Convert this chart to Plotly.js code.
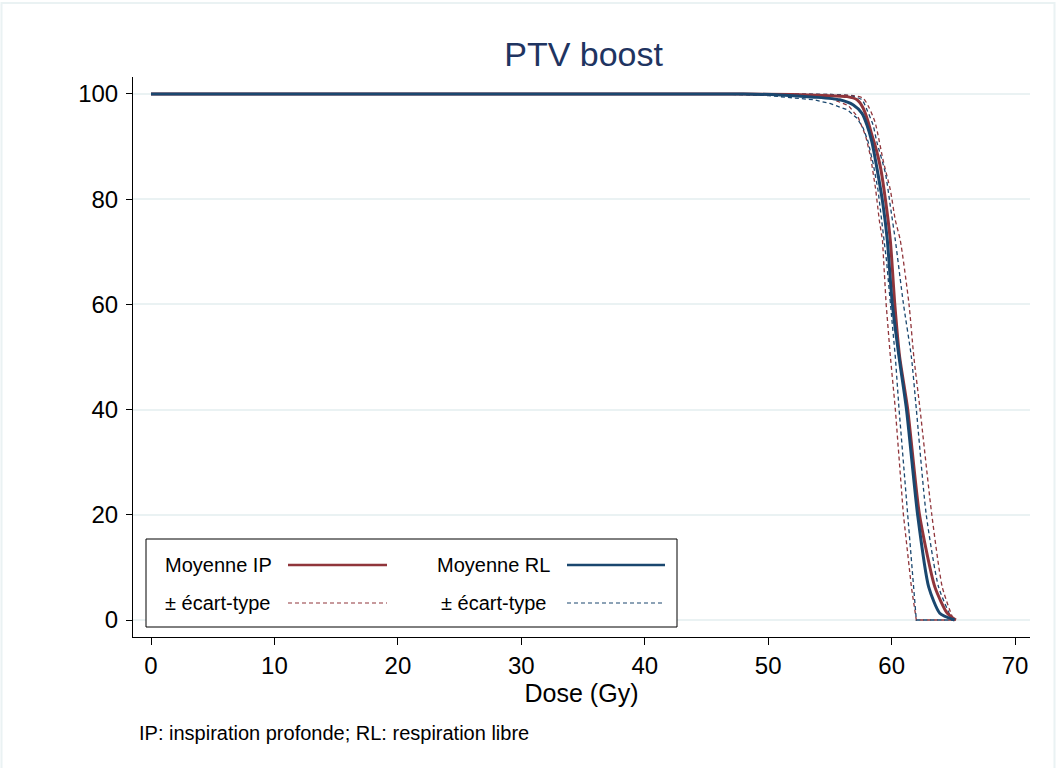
<!DOCTYPE html>
<html>
<head>
<meta charset="utf-8">
<script src="https://cdn.plot.ly/plotly-3.0.1.min.js"></script>
<style>html,body{margin:0;padding:0;background:#fff;}#chart{width:1056px;height:768px;}</style>
</head>
<body>
<div id="chart"></div>
<script>
// ---- Data (dose in Gy, volume in %) ----
const doseIP = [0, 48, 52, 54.5, 56.4, 57.2, 57.7, 58.1, 58.4, 58.65, 59.1, 59.55, 59.9, 60.25, 60.65, 61.3, 62.25, 63.5, 64.5, 65.2];
const volIP  = [100, 100, 99.9, 99.7, 99.5, 98.9, 97.3, 94.7, 92.2, 90.3, 86, 79, 72, 60.2, 50, 40.1, 20.1, 6.3, 1.3, 0];

const doseIPlow = [0, 48, 52, 55, 56.5, 57.3, 57.9, 58.3, 58.7, 59.0, 59.26, 59.42, 59.55, 59.9, 60.3, 60.95, 61.6, 62.0, 65.2];
const volIPlow  = [100, 100, 99.8, 99.2, 97.8, 95.5, 92, 88, 82, 76, 72.2, 66.5, 60.2, 50, 40.1, 20.1, 6.3, 0, 0];

const doseIPhigh = [0, 50, 55, 56.9, 57.7, 58.2, 58.65, 58.9, 59.3, 59.9, 60.3, 60.7, 61.4, 61.8, 62.3, 63.25, 64.1, 65.0];
const volIPhigh  = [100, 100, 99.9, 99.7, 99.2, 97.3, 94.7, 92.2, 87.5, 81.7, 76, 72.2, 60.2, 50, 40.1, 20.1, 6.3, 0];

const doseRL = [0, 48, 51, 53.7, 55.8, 56.9, 57.6, 58.0, 58.4, 58.8, 59.3, 59.65, 60.05, 60.6, 61.2, 62.1, 63.0, 63.9, 65.1];
const volRL  = [100, 100, 99.8, 99.4, 98.9, 97.9, 96.3, 94.1, 90.9, 86, 79, 72.2, 60.2, 50, 40.1, 20.1, 6.3, 1.3, 0];

const doseRLlow = [0, 46, 50, 53.7, 55.0, 56.4, 57.2, 57.7, 58.1, 58.5, 58.9, 59.25, 59.6, 59.9, 60.3, 60.6, 61.3, 61.75, 62.0, 65.1];
const volRLlow  = [100, 100, 99.7, 98.9, 98.2, 97, 95.4, 93.5, 90.9, 86.8, 81.7, 75, 68, 60.2, 50, 40.1, 20.1, 6.3, 0, 0];

const doseRLhigh = [0, 50, 55, 56.8, 57.6, 58.0, 58.5, 58.8, 59.5, 59.9, 60.3, 60.95, 61.6, 62.0, 62.8, 63.8, 64.9];
const volRLhigh  = [100, 100, 99.9, 99.6, 98.9, 97, 94.1, 90.9, 84.9, 78.6, 72.2, 60.2, 50, 40.1, 20.1, 6.3, 0];

const xTicks = [0, 10, 20, 30, 40, 50, 60, 70];
const yTicks = [0, 20, 40, 60, 80, 100];
const legendLabels = ["Moyenne IP", "Moyenne RL", "\u00B1 écart-type", "\u00B1 écart-type"];
const titleText = "PTV boost";
const xTitle = "Dose (Gy)";
const noteText = "IP: inspiration profonde; RL: respiration libre";

// ---- Styles ----
const RED = "#90353b", BLUE = "#1a476f";
const DASH = "4px,3px";
function solid(x, y, c) { return {x, y, type: "scatter", mode: "lines", line: {color: c, width: 3, shape: "spline", smoothing: 0.6}, hoverinfo: "skip"}; }
function dashed(x, y, c, smooth) {
  const line = {color: c, width: 1.3, dash: DASH};
  if (smooth) { line.shape = "spline"; line.smoothing = 0.6; }
  return {x, y, type: "scatter", mode: "lines", line, hoverinfo: "skip"};
}

const traces = [
  dashed(doseIPlow, volIPlow, RED, false),
  dashed(doseIPhigh, volIPhigh, RED, true),
  dashed(doseRLlow, volRLlow, BLUE, false),
  dashed(doseRLhigh, volRLhigh, BLUE, true),
  solid(doseIP, volIP, RED),
  solid(doseRL, volRL, BLUE)
];

// pixel -> paper helpers (plot area: x 133..1030, y 77..637)
const L = 133, R = 1030, T = 77, B = 637;
const px = v => (v - L) / (R - L);
const py = v => (B - v) / (B - T);

const shapes = [
  // outer frame
  {type: "rect", xref: "paper", yref: "paper", x0: px(1.5), x1: px(1054.5), y0: py(790), y1: py(3), line: {color: "#eaf2f3", width: 2}, fillcolor: "rgba(0,0,0,0)", layer: "below"},
  // legend box
  {type: "rect", xref: "paper", yref: "paper", x0: px(146), x1: px(677), y0: py(627), y1: py(539), line: {color: "#000", width: 1}, fillcolor: "#fff", layer: "above"},
  {type: "line", xref: "paper", yref: "paper", x0: px(288), x1: px(387), y0: py(565), y1: py(565), line: {color: RED, width: 2.5}, layer: "above"},
  {type: "line", xref: "paper", yref: "paper", x0: px(567), x1: px(665), y0: py(565), y1: py(565), line: {color: BLUE, width: 2.5}, layer: "above"},
  {type: "line", xref: "paper", yref: "paper", x0: px(288), x1: px(387), y0: py(603), y1: py(603), line: {color: RED, width: 1.2, dash: DASH}, layer: "above"},
  {type: "line", xref: "paper", yref: "paper", x0: px(567), x1: px(665), y0: py(603), y1: py(603), line: {color: BLUE, width: 1.2, dash: DASH}, layer: "above"}
];

const FONT = "Liberation Sans, Arial, sans-serif";
const legFont = {family: FONT, size: 20, color: "#000"};
const annotations = [
  {text: legendLabels[0], xref: "paper", yref: "paper", x: px(163), y: py(565), xanchor: "left", yanchor: "middle", showarrow: false, font: legFont},
  {text: legendLabels[1], xref: "paper", yref: "paper", x: px(435), y: py(565), xanchor: "left", yanchor: "middle", showarrow: false, font: legFont},
  {text: legendLabels[2], xref: "paper", yref: "paper", x: px(163), y: py(603), xanchor: "left", yanchor: "middle", showarrow: false, font: legFont},
  {text: legendLabels[3], xref: "paper", yref: "paper", x: px(439), y: py(603), xanchor: "left", yanchor: "middle", showarrow: false, font: legFont},
  {text: noteText, xref: "paper", yref: "paper", x: px(137), y: py(733), xanchor: "left", yanchor: "middle", showarrow: false, font: legFont}
];

const layout = {
  width: 1056, height: 768,
  margin: {l: L, r: 1056 - R, t: T, b: 768 - B},
  paper_bgcolor: "#fff", plot_bgcolor: "#fff",
  showlegend: false,
  hovermode: false,
  title: {text: titleText, x: 0.5 * (L + R) / 1056 + 0.002, xanchor: "center", xref: "container",
          y: 1 - 54 / 768, yanchor: "middle", yref: "container",
          font: {family: FONT, size: 34, color: "#1f3461"}},
  xaxis: {
    range: [-1.46, 71.21], tickvals: xTicks, ticktext: xTicks.map(String),
    showgrid: false, zeroline: false, showline: true, linecolor: "#000", linewidth: 1,
    ticks: "outside", ticklen: 7, tickcolor: "#000", tickwidth: 1,
    tickfont: {family: FONT, size: 24, color: "#000"},
    title: {text: xTitle, standoff: 0, font: {family: FONT, size: 25, color: "#000"}}
  },
  yaxis: {
    range: [-3.23, 103.23], tickvals: yTicks, ticktext: yTicks.map(String),
    showgrid: true, gridcolor: "#eaf2f3", gridwidth: 2, zeroline: false,
    showline: true, linecolor: "#000", linewidth: 1,
    ticks: "outside", ticklen: 6, tickcolor: "#000", tickwidth: 1,
    ticklabelstandoff: 3,
    tickfont: {family: FONT, size: 24, color: "#000"}
  },
  shapes, annotations
};

Plotly.newPlot("chart", traces, layout, {staticPlot: true, displayModeBar: false});
</script>
</body>
</html>
